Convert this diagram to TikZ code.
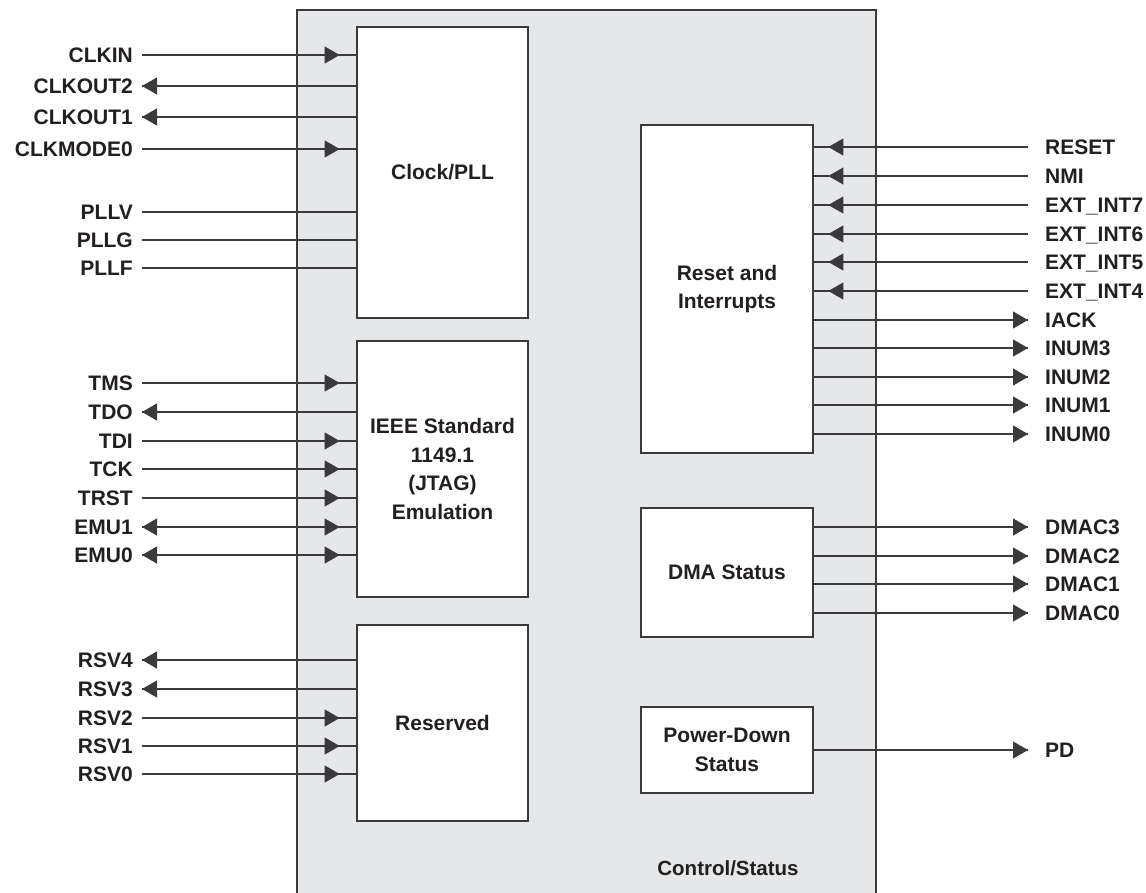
\documentclass[tikz,border=0pt]{standalone}
\usepackage{fontspec}
\setmainfont{Liberation Sans}
\usetikzlibrary{arrows.meta}
\definecolor{ink}{HTML}{3A3A3C}
\definecolor{txt}{HTML}{231F20}
\definecolor{panelgray}{HTML}{E6E7E8}
\begin{document}
\begin{tikzpicture}[x=1pt,y=-1pt,
  blk/.style={draw=ink,line width=2.7pt,fill=white,text=txt,
    font=\bfseries\fontsize{21}{28.5}\selectfont,align=center,inner sep=0pt},
  sig/.style={text=txt,font=\bfseries\fontsize{21}{24}\selectfont,
    inner sep=0pt,text height=15pt,text depth=0pt},
  wire/.style={draw=ink,line width=1.1pt},
  tip/.style={-{Triangle[length=15pt,width=17pt]},draw=ink,fill=ink}
]
\useasboundingbox (0,0) rectangle (1146,892);
% outer panel
\fill[panelgray] (297,10) rectangle (876,900);
\draw[ink,line width=2.7pt] (297,900) -- (297,10) -- (876,10) -- (876,900);
\node[text=txt,font=\bfseries\fontsize{20.5}{24}\selectfont] (cs) at (728,868) {Control/Status};

% blocks
\node[blk,minimum width=171pt,minimum height=291pt] (clk) at (442.5,172.5) {Clock/PLL};
\node[blk,minimum width=171pt,minimum height=256pt] (jtag) at (442.5,469) {IEEE Standard\\1149.1\\(JTAG)\\Emulation};
\node[blk,minimum width=171pt,minimum height=196pt] (rsv) at (442.5,723) {Reserved};
\node[blk,minimum width=172pt,minimum height=328pt] (rst) at (727,289) {Reset and\\Interrupts};
\node[blk,minimum width=172pt,minimum height=129pt] (dma) at (727,572.5) {DMA Status};
\node[blk,minimum width=172pt,minimum height=86pt] (pwr) at (727,750) {Power-Down\\Status};

% left signals: name/y/box
\foreach \n/\y/\b in {CLKIN/55/clk,CLKOUT2/86/clk,CLKOUT1/117/clk,CLKMODE0/149/clk,
  PLLV/212/clk,PLLG/240/clk,PLLF/268/clk,
  TMS/383/jtag,TDO/412/jtag,TDI/441/jtag,TCK/469/jtag,TRST/498/jtag,EMU1/527/jtag,EMU0/555/jtag,
  RSV4/660/rsv,RSV3/689/rsv,RSV2/718/rsv,RSV1/746/rsv,RSV0/774/rsv}{
  \node[sig,anchor=east] (\n) at (133,\y) {\n};
  \draw[wire] ([xshift=9pt]\n.east) -- (\b.west |- \n.east);
}
% left inputs (tip near block)
\foreach \n/\b in {CLKIN/clk,CLKMODE0/clk,TMS/jtag,TDI/jtag,TCK/jtag,TRST/jtag,EMU1/jtag,EMU0/jtag,
  RSV2/rsv,RSV1/rsv,RSV0/rsv}{
  \draw[wire,tip,shorten >=16pt] ([xshift=9pt]\n.east) -- (\b.west |- \n.east);
}
% left outputs (tip near label)
\foreach \n/\b in {CLKOUT2/clk,CLKOUT1/clk,TDO/jtag,EMU1/jtag,EMU0/jtag,RSV4/rsv,RSV3/rsv}{
  \draw[wire,tip] (\b.west |- \n.east) -- ([xshift=9pt]\n.east);
}

% right signals: name/text/y/box
\foreach \n/\t/\y/\b in {RESET/RESET/147/rst,NMI/NMI/176/rst,EI7/EXT\_INT7/205/rst,EI6/EXT\_INT6/234/rst,
  EI5/EXT\_INT5/262/rst,EI4/EXT\_INT4/291/rst,IACK/IACK/320/rst,INUM3/INUM3/348/rst,INUM2/INUM2/377/rst,
  INUM1/INUM1/405/rst,INUM0/INUM0/434/rst,
  DMAC3/DMAC3/527/dma,DMAC2/DMAC2/556/dma,DMAC1/DMAC1/584/dma,DMAC0/DMAC0/613/dma,PD/PD/750/pwr}{
  \node[sig,anchor=west] (\n) at (1045,\y) {\t};
  \draw[wire] (\b.east |- \n.west) -- ([xshift=-17pt]\n.west);
}
% right inputs (tip near block)
\foreach \n/\b in {RESET/rst,NMI/rst,EI7/rst,EI6/rst,EI5/rst,EI4/rst}{
  \draw[wire,tip,shorten >=14pt] ([xshift=-17pt]\n.west) -- (\b.east |- \n.west);
}
% right outputs (tip near label)
\foreach \n/\b in {IACK/rst,INUM3/rst,INUM2/rst,INUM1/rst,INUM0/rst,
  DMAC3/dma,DMAC2/dma,DMAC1/dma,DMAC0/dma,PD/pwr}{
  \draw[wire,tip] (\b.east |- \n.west) -- ([xshift=-17pt]\n.west);
}
\end{tikzpicture}
\end{document}
